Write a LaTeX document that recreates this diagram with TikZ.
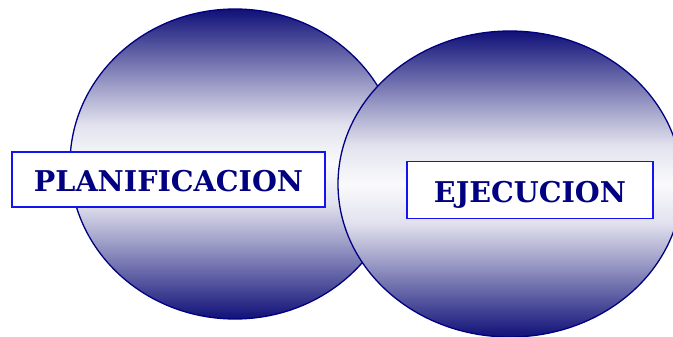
\documentclass[tikz,border=0pt]{standalone}
\usepackage{fontspec}
\newfontfamily\lblfont{DejaVu Serif}
\definecolor{navy}{RGB}{16,16,120}
\definecolor{boxblue}{RGB}{20,20,240}
\definecolor{txtnavy}{RGB}{0,0,128}
\pgfdeclareverticalshading{blobshade}{100bp}{%
  color(0bp)=(navy); color(25bp)=(navy);
  color(31.25bp)=(navy!70!white); color(37.5bp)=(navy!40!white);
  color(43.75bp)=(navy!12!white); color(50bp)=(navy!2!white);
  color(56.25bp)=(navy!12!white); color(62.5bp)=(navy!40!white);
  color(68.75bp)=(navy!70!white); color(75bp)=(navy); color(100bp)=(navy)}
\tikzset{
  blob/.style={draw=txtnavy, line width=1.3pt, shading=blobshade},
  label box/.style={draw=boxblue, line width=1.5pt, fill=white, inner sep=0pt,
    text height=24.8pt, text depth=0pt,
    font=\lblfont\fontsize{28.6}{28.6}\selectfont\bfseries, text=txtnavy}
}
\begin{document}
\begin{tikzpicture}[x=1pt,y=-1pt]
\useasboundingbox (0,0) rectangle (673,337);
\path[blob] (235,164) ellipse [x radius=165, y radius=155];
\path[blob] (510,184) ellipse [x radius=172, y radius=153];
\node[label box, minimum width=313pt, minimum height=55pt] (plan) at (168.5,179.5) {PLANIFICACION};
\node[label box, minimum width=246pt, minimum height=57pt] (ejec) at (530,190) {EJECUCION};
\end{tikzpicture}
\end{document}
